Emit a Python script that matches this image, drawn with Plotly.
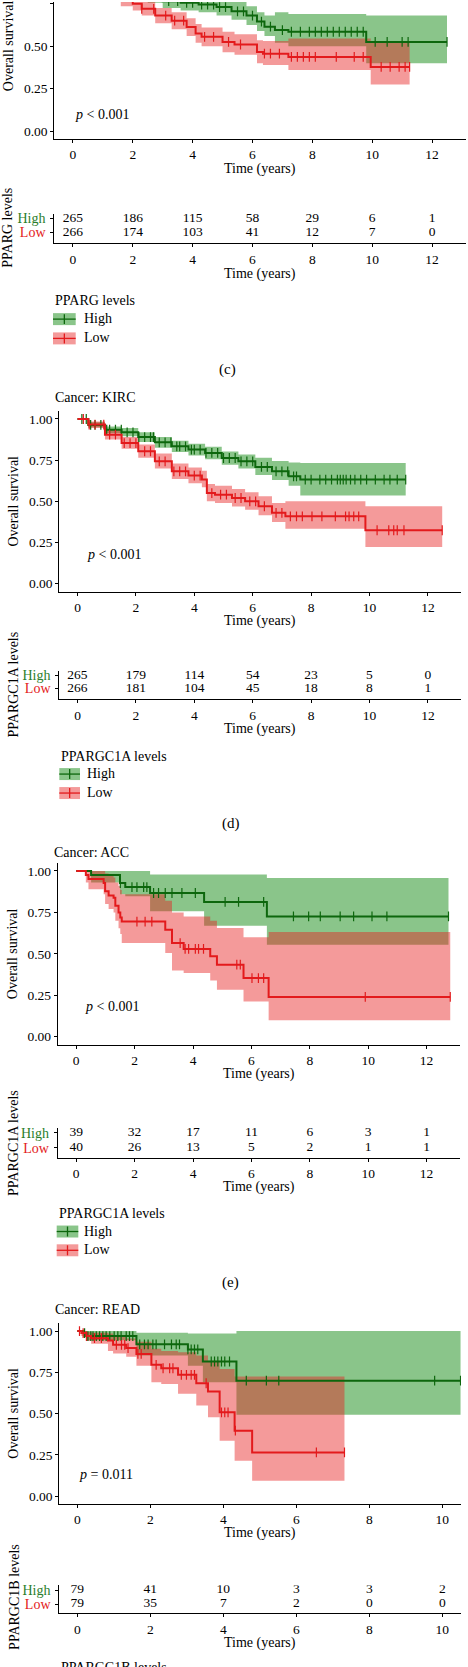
import plotly.graph_objects as go

W, H = 468, 1667
FONT = "Liberation Serif"
GREEN_LINE = "#0d670d"
RED_LINE = "#e31a1c"
GREEN_FILL = "rgba(0,128,0,0.46)"
RED_FILL = "rgba(230,30,30,0.45)"
GREEN_TXT = "#2a7d2a"
RED_TXT = "#e31a1c"

# ---------------- (c) PPARG ----------------
c_hi_t = [0, 0.5, 1.0, 1.5, 2.0, 2.5, 3.0, 3.6, 4.2, 4.8, 5.3, 5.8, 6.15, 6.4, 6.75, 7.2, 9.8, 12.5]
c_hi_s = [1.0, 0.95, 0.91, 0.87, 0.83, 0.79, 0.765, 0.755, 0.745, 0.73, 0.705, 0.68, 0.645, 0.615, 0.595, 0.585, 0.525, 0.525]
c_hi_lo = [1.0, 0.93, 0.885, 0.84, 0.795, 0.755, 0.725, 0.71, 0.70, 0.68, 0.655, 0.625, 0.59, 0.56, 0.52, 0.50, 0.40, 0.40]
c_hi_up = [1.0, 0.97, 0.935, 0.90, 0.865, 0.825, 0.805, 0.80, 0.79, 0.78, 0.76, 0.735, 0.70, 0.68, 0.70, 0.69, 0.68, 0.68]
c_hi_cens = [3.2, 3.5, 3.8, 4.0, 4.3, 4.5, 4.7, 4.9, 5.1, 5.5, 5.7, 6.0, 6.3, 6.6, 7.0, 7.3, 7.6, 7.9, 8.1,
             8.3, 8.5, 8.7, 8.9, 9.1, 9.3, 9.5, 9.7, 10.1, 10.5, 11.0, 11.2, 12.5]
c_lo_t = [0, 0.4, 0.8, 1.2, 1.6, 2.0, 2.3, 2.75, 3.3, 3.8, 4.1, 4.3, 5.0, 5.4, 6.15, 6.35, 7.2, 9.95, 11.25]
c_lo_s = [1.0, 0.96, 0.91, 0.86, 0.77, 0.75, 0.72, 0.68, 0.65, 0.613, 0.575, 0.555, 0.525, 0.51, 0.466, 0.456, 0.437, 0.378, 0.378]
c_lo_lo = [1.0, 0.94, 0.885, 0.83, 0.735, 0.71, 0.68, 0.635, 0.60, 0.56, 0.52, 0.50, 0.465, 0.45, 0.40, 0.39, 0.36, 0.275, 0.275]
c_lo_up = [1.0, 0.98, 0.94, 0.89, 0.805, 0.79, 0.76, 0.725, 0.70, 0.665, 0.63, 0.61, 0.585, 0.57, 0.535, 0.53, 0.545, 0.53, 0.53]
c_lo_cens = [2.3, 2.7, 3.1, 3.4, 3.7, 4.4, 4.7, 5.2, 5.6, 6.4, 6.6, 6.9, 7.3, 7.5, 7.7, 7.9, 8.1, 8.8, 9.4, 9.7,
             10.3, 10.6, 10.9, 11.1, 11.25]
c_ticks = [0, 2, 4, 6, 8, 10, 12]
c_risk_high = [265, 186, 115, 58, 29, 6, 1]
c_risk_low = [266, 174, 103, 41, 12, 7, 0]

# ---------------- (d) KIRC / PPARGC1A ----------------
d_hi_t = [0, 0.37, 0.94, 1.51, 2.08, 2.65, 3.23, 3.8, 4.37, 4.94, 5.51, 6.09, 6.66, 7.23, 7.63, 11.24]
d_hi_s = [1.0, 0.964, 0.935, 0.919, 0.89, 0.858, 0.834, 0.814, 0.794, 0.763, 0.743, 0.709, 0.682, 0.652, 0.632, 0.632]
d_hi_lo = [1.0, 0.95, 0.915, 0.895, 0.86, 0.825, 0.80, 0.778, 0.755, 0.722, 0.70, 0.66, 0.63, 0.595, 0.536, 0.536]
d_hi_up = [1.0, 0.98, 0.955, 0.945, 0.92, 0.89, 0.868, 0.85, 0.832, 0.803, 0.785, 0.765, 0.745, 0.735, 0.733, 0.733]
d_hi_cens = [0.15, 0.3, 0.45, 0.6, 0.8, 1.0, 1.1, 1.3, 1.5, 1.7, 1.9, 2.1, 2.3, 2.5, 2.6, 2.8, 3.0, 3.2, 3.4, 3.5,
             3.7, 3.9, 4.0, 4.2, 4.4, 4.6, 4.8, 5.0, 5.2, 5.4, 5.6, 5.8, 6.0, 6.3, 6.5, 6.8, 7.0, 7.2, 7.4, 7.5,
             7.8, 8.0, 8.3, 8.5, 8.7, 8.9, 9.0, 9.1, 9.2, 9.35, 9.5, 9.7, 9.9, 10.2, 10.5, 10.7, 10.95, 11.24]
d_lo_t = [0, 0.37, 0.94, 1.51, 2.08, 2.65, 3.23, 3.8, 4.26, 4.43, 4.71, 5.29, 5.74, 6.2, 6.66, 7.12, 9.86, 12.49]
d_lo_s = [1.0, 0.966, 0.905, 0.854, 0.804, 0.743, 0.682, 0.656, 0.632, 0.55, 0.54, 0.52, 0.50, 0.47, 0.43, 0.409, 0.324, 0.324]
d_lo_lo = [1.0, 0.945, 0.875, 0.82, 0.765, 0.70, 0.635, 0.61, 0.585, 0.50, 0.49, 0.468, 0.448, 0.415, 0.375, 0.333, 0.223, 0.223]
d_lo_up = [1.0, 0.985, 0.935, 0.89, 0.845, 0.79, 0.73, 0.705, 0.685, 0.605, 0.595, 0.575, 0.555, 0.53, 0.49, 0.50, 0.47, 0.47]
d_lo_cens = [0.2, 0.4, 0.6, 0.9, 1.1, 1.3, 1.6, 1.8, 2.0, 2.3, 2.5, 2.8, 3.0, 3.3, 3.5, 3.7, 4.0, 4.2, 4.6, 4.9,
             5.1, 5.4, 5.6, 5.9, 6.1, 6.4, 6.8, 7.0, 7.29, 7.5, 7.7, 8.03, 8.37, 8.83, 9.18, 9.3, 9.46, 9.63,
             10.26, 10.66, 10.83, 10.95, 11.18, 12.49]
d_ticks = [0, 2, 4, 6, 8, 10, 12]
d_risk_high = [265, 179, 114, 54, 23, 5, 0]
d_risk_low = [266, 181, 104, 45, 18, 8, 1]

# ---------------- (e) ACC / PPARGC1A ----------------
e_hi_t = [0, 0.51, 1.5, 1.68, 2.53, 4.38, 6.53, 12.75]
e_hi_s = [1.0, 0.976, 0.927, 0.903, 0.867, 0.813, 0.726, 0.726]
e_hi_lo = [1.0, 0.93, 0.86, 0.847, 0.757, 0.67, 0.555, 0.555]
e_hi_up = [1.0, 1.0, 1.0, 1.0, 0.978, 0.978, 0.958, 0.958]
e_hi_cens = [1.51, 1.91, 2.08, 2.31, 2.42, 2.65, 2.82, 3.05, 3.28, 3.62, 4.08, 5.1, 5.56, 6.42, 7.44, 7.96,
             8.36, 9.04, 9.5, 10.13, 10.64, 12.75]
e_lo_t = [0, 0.33, 0.42, 0.94, 0.99, 1.11, 1.28, 1.34, 1.45, 1.51, 1.56, 3.05, 3.28, 3.68, 4.59, 4.82, 5.73, 6.59, 12.81]
e_lo_s = [1.0, 0.976, 0.952, 0.927, 0.878, 0.852, 0.838, 0.79, 0.75, 0.72, 0.695, 0.645, 0.565, 0.53, 0.485, 0.435, 0.354, 0.24, 0.24]
e_lo_lo = [1.0, 0.93, 0.89, 0.86, 0.80, 0.77, 0.75, 0.70, 0.655, 0.62, 0.565, 0.505, 0.40, 0.385, 0.34, 0.284, 0.213, 0.099, 0.099]
e_lo_up = [1.0, 1.0, 1.0, 1.0, 0.985, 0.97, 0.96, 0.93, 0.91, 0.885, 0.86, 0.82, 0.75, 0.726, 0.70, 0.656, 0.60, 0.632, 0.632]
e_lo_cens = [2.08, 2.36, 2.59, 3.56, 3.73, 3.85, 4.08, 4.19, 4.36, 5.5, 5.62, 6.02, 6.24, 6.42, 9.9, 12.81]
e_ticks = [0, 2, 4, 6, 8, 10, 12]
e_risk_high = [39, 32, 17, 11, 6, 3, 1]
e_risk_low = [40, 26, 13, 5, 2, 1, 1]

# ---------------- (f) READ / PPARGC1B ----------------
f_hi_t = [0, 0.155, 0.247, 1.62, 3.03, 3.44, 4.36, 10.5]
f_hi_s = [1.0, 0.988, 0.97, 0.92, 0.889, 0.816, 0.70, 0.70]
f_hi_lo = [1.0, 0.965, 0.945, 0.852, 0.79, 0.69, 0.494, 0.494]
f_hi_up = [1.0, 1.0, 1.0, 0.99, 0.985, 0.985, 1.0, 1.0]
f_hi_cens = [0.2, 0.29, 0.37, 0.43, 0.52, 0.61, 0.7, 0.79, 0.89, 1.01, 1.11, 1.2, 1.34, 1.43, 1.52, 1.71, 1.84,
             1.94, 2.07, 2.16, 2.39, 2.58, 2.71, 2.8, 3.03, 3.12, 3.21, 3.3, 3.67, 3.76, 3.85, 3.95, 4.04, 4.17,
             4.63, 5.18, 5.52, 9.79, 10.5]
f_lo_t = [0, 0.11, 0.25, 0.38, 0.84, 0.98, 1.34, 1.62, 2.03, 2.3, 2.76, 3.26, 3.58, 3.9, 4.31, 4.79, 7.32]
f_lo_s = [1.0, 0.988, 0.97, 0.957, 0.943, 0.917, 0.897, 0.862, 0.796, 0.775, 0.735, 0.684, 0.634, 0.508, 0.397, 0.265, 0.265]
f_lo_lo = [1.0, 0.97, 0.94, 0.923, 0.88, 0.865, 0.845, 0.79, 0.69, 0.68, 0.62, 0.549, 0.478, 0.336, 0.215, 0.093, 0.093]
f_lo_up = [1.0, 1.0, 0.995, 0.99, 0.985, 0.97, 0.955, 0.935, 0.893, 0.88, 0.872, 0.852, 0.82, 0.77, 0.725, 0.725, 0.725]
f_lo_cens = [0.06, 0.16, 0.25, 0.47, 0.66, 1.07, 1.21, 1.3, 1.39, 1.66, 1.75, 2.16, 2.35, 2.53, 2.62, 2.85, 2.99,
             3.12, 3.21, 3.53, 3.95, 4.04, 4.13, 4.33, 6.55, 7.32]
f_ticks = [0, 2, 4, 6, 8, 10]
f_risk_high = [79, 41, 10, 3, 3, 2]
f_risk_low = [79, 35, 7, 2, 0, 0]

# ---------------- layout (pixel geometry) ----------------
panels = [
    dict(gene="PPARG", cancer=None, label="(c)", p="<i>p</i> < 0.001",
         hi=(c_hi_t, c_hi_s, c_hi_lo, c_hi_up, c_hi_cens), lo=(c_lo_t, c_lo_s, c_lo_lo, c_lo_up, c_lo_cens),
         ticks=c_ticks, rh=c_risk_high, rl=c_risk_low,
         t0=72.9, ppy=29.93, left=54.3, right=466, s0=129.3, ppu=170.1, top=0, bottom=136.7,
         r_high=216.7, r_low=230.7, r_axis=241.7,
         title_y=None, title_x=53, ttl_km=166.7, ttl_tab=271, os_x=8, gl_x=8, gl_y=226,
         p_x=73, p_y=113, leg_x=53, leg_w=22.7, leg_title=299.3, leg_high=317.5, leg_low=336.8,
         leg_tx=81.7, lab_y=368.3, lab_x=227),
    dict(gene="PPARGC1A", cancer="KIRC", label="(d)", p="<i>p</i> < 0.001",
         hi=(d_hi_t, d_hi_s, d_hi_lo, d_hi_up, d_hi_cens), lo=(d_lo_t, d_lo_s, d_lo_lo, d_lo_up, d_lo_cens),
         ticks=d_ticks, rh=d_risk_high, rl=d_risk_low,
         t0=77.5, ppy=29.2, left=59.3, right=461, s0=582.3, ppu=164.8, top=409, bottom=590.3,
         r_high=674, r_low=687.3, r_axis=698.3,
         title_y=396, title_x=53.3, ttl_km=619, ttl_tab=726.7, os_x=13.3, gl_x=13.3, gl_y=683,
         p_x=85, p_y=553, leg_x=59.3, leg_w=20.7, leg_title=755.7, leg_high=773, leg_low=792,
         leg_tx=85, lab_y=822.7, lab_x=231),
    dict(gene="PPARGC1A", cancer="ACC", label="(e)", p="<i>p</i> < 0.001",
         hi=(e_hi_t, e_hi_s, e_hi_lo, e_hi_up, e_hi_cens), lo=(e_lo_t, e_lo_s, e_lo_lo, e_lo_up, e_lo_cens),
         ticks=e_ticks, rh=e_risk_high, rl=e_risk_low,
         t0=76.2, ppy=29.2, left=57.7, right=459.5, s0=1036, ppu=166, top=861.7, bottom=1044.3,
         r_high=1132.3, r_low=1147.3, r_axis=1157.3,
         title_y=851.7, title_x=51.7, ttl_km=1072.3, ttl_tab=1185, os_x=13.3, gl_x=13.3, gl_y=1142,
         p_x=83.3, p_y=1006, leg_x=56.7, leg_w=21.6, leg_title=1213.3, leg_high=1231, leg_low=1249.8,
         leg_tx=81.7, lab_y=1281.7, lab_x=230.5),
    dict(gene="PPARGC1B", cancer="READ", label=None, p="<i>p</i> = 0.011",
         hi=(f_hi_t, f_hi_s, f_hi_lo, f_hi_up, f_hi_cens), lo=(f_lo_t, f_lo_s, f_lo_lo, f_lo_up, f_lo_cens),
         ticks=f_ticks, rh=f_risk_high, rl=f_risk_low,
         t0=77.3, ppy=36.5, left=59.3, right=461, s0=1496, ppu=165.3, top=1322.3, bottom=1503.5,
         r_high=1590, r_low=1604, r_axis=1613.3,
         title_y=1309.3, title_x=53.3, ttl_km=1532.3, ttl_tab=1641.7, os_x=14, gl_x=13.8, gl_y=1597,
         p_x=76.7, p_y=1474.3, leg_x=None, leg_w=0, leg_title=1668, leg_high=None, leg_low=None,
         leg_tx=0, lab_y=None, lab_x=0, leg_title_x=59.3),
]


def xd(px):
    return px / W


def yd(py):
    return 1 - py / H


def step_at(ts, ss, t):
    v = ss[0]
    for ti, si in zip(ts, ss):
        if ti <= t:
            v = si
    return v


fig = go.Figure()
layout = {}
annotations = []
shapes = []

AX = dict(showline=True, linecolor="black", linewidth=1, ticks="outside", ticklen=3, tickwidth=1,
          tickcolor="black", showgrid=False, zeroline=False, fixedrange=True,
          tickfont=dict(family=FONT, size=13.5, color="black"))


def ann(text, px, py, size=14, xanchor="center", angle=0, color="black"):
    annotations.append(dict(text=text, x=xd(px), y=yd(py), xref="paper", yref="paper", showarrow=False,
                            xanchor=xanchor, yanchor="middle", textangle=angle,
                            font=dict(family=FONT, size=size, color=color)))


for i, p in enumerate(panels):
    k, kt = 2 * i + 1, 2 * i + 2
    xn = "xaxis" if k == 1 else f"xaxis{k}"
    yn = "yaxis" if k == 1 else f"yaxis{k}"
    xr_ = "x" if k == 1 else f"x{k}"
    yr_ = "y" if k == 1 else f"y{k}"
    xrange = [(p["left"] - p["t0"]) / p["ppy"], (p["right"] - p["t0"]) / p["ppy"]]
    yrange = [(p["s0"] - p["bottom"]) / p["ppu"], (p["s0"] - p["top"]) / p["ppu"]]
    layout[xn] = dict(AX, domain=[xd(p["left"]), xd(p["right"])], range=xrange, anchor=yr_,
                      tickvals=p["ticks"], ticktext=[str(t) for t in p["ticks"]])
    layout[yn] = dict(AX, domain=[yd(p["bottom"]), yd(p["top"])], range=yrange, anchor=xr_,
                      tickvals=[0, 0.25, 0.5, 0.75, 1.0], ticktext=["0.00", "0.25", "0.50", "0.75", "1.00"])

    # risk table axes
    d = p["r_low"] - p["r_high"]
    t_top = p["r_high"] - 0.35 * d
    ylo = 1 - (p["r_axis"] - p["r_low"]) / d
    layout[f"xaxis{kt}"] = dict(AX, domain=[xd(p["left"]), xd(p["right"])], range=xrange, anchor=f"y{kt}",
                                tickvals=p["ticks"], ticktext=[str(t) for t in p["ticks"]])
    layout[f"yaxis{kt}"] = dict(AX, domain=[yd(p["r_axis"]), yd(t_top)], range=[ylo, 2.35], anchor=f"x{kt}",
                                tickvals=[1, 2], ticklabelstandoff=2,
                                ticktext=[f'<span style="color:{RED_TXT}">Low</span>',
                                          f'<span style="color:{GREEN_TXT}">High</span>'],
                                tickfont=dict(family=FONT, size=14, color="black"))

    # CI bands: green first, red on top
    for grp, fillc in ((p["hi"], GREEN_FILL), (p["lo"], RED_FILL)):
        ts, ss, lo, up, cens = grp
        fig.add_trace(go.Scatter(x=ts, y=lo, mode="lines", line=dict(width=0, shape="hv"),
                                 xaxis=xr_, yaxis=yr_, hoverinfo="skip", showlegend=False))
        fig.add_trace(go.Scatter(x=ts, y=up, mode="lines", line=dict(width=0, shape="hv"), fill="tonexty",
                                 fillcolor=fillc, xaxis=xr_, yaxis=yr_, hoverinfo="skip", showlegend=False))
    for grp, lc in ((p["hi"], GREEN_LINE), (p["lo"], RED_LINE)):
        ts, ss, lo, up, cens = grp
        fig.add_trace(go.Scatter(x=ts, y=ss, mode="lines", line=dict(width=2, shape="hv", color=lc),
                                 xaxis=xr_, yaxis=yr_, hoverinfo="skip", showlegend=False))
        fig.add_trace(go.Scatter(x=cens, y=[step_at(ts, ss, c) for c in cens], mode="markers",
                                 marker=dict(symbol="line-ns", size=7, line=dict(width=1.2, color=lc)),
                                 xaxis=xr_, yaxis=yr_, hoverinfo="skip", showlegend=False))

    # risk numbers
    fig.add_trace(go.Scatter(x=p["ticks"], y=[2] * len(p["ticks"]), mode="text", text=[str(v) for v in p["rh"]],
                             textfont=dict(family=FONT, size=13.5, color="black"), xaxis=f"x{kt}", yaxis=f"y{kt}",
                             hoverinfo="skip", showlegend=False))
    fig.add_trace(go.Scatter(x=p["ticks"], y=[1] * len(p["ticks"]), mode="text", text=[str(v) for v in p["rl"]],
                             textfont=dict(family=FONT, size=13.5, color="black"), xaxis=f"x{kt}", yaxis=f"y{kt}",
                             hoverinfo="skip", showlegend=False))

    # texts
    mid_x = (p["left"] + p["right"]) / 2
    if p["cancer"]:
        ann(f"Cancer: {p['cancer']}", p["title_x"], p["title_y"], xanchor="left")
    ann("Time (years)", mid_x, p["ttl_km"] + 1)
    ann("Time (years)", mid_x, p["ttl_tab"] + 1)
    ann("Overall survival", p["os_x"], p["s0"] - 0.5 * p["ppu"], angle=-90)
    ann(f"{p['gene']} levels", p["gl_x"], p["gl_y"], angle=-90)
    ann(p["p"], p["p_x"], p["p_y"], xanchor="left")
    if p["leg_x"] is not None:
        ann(f"{p['gene']} levels", p["leg_x"], p["leg_title"], xanchor="left")
        for cy, fc, lc, name in ((p["leg_high"], GREEN_FILL, GREEN_LINE, "High"),
                                 (p["leg_low"], RED_FILL, RED_LINE, "Low")):
            x0, x1 = p["leg_x"], p["leg_x"] + p["leg_w"]
            shapes.append(dict(type="rect", xref="paper", yref="paper", x0=xd(x0), x1=xd(x1),
                               y0=yd(cy + 6), y1=yd(cy - 6), fillcolor=fc, line=dict(width=0)))
            shapes.append(dict(type="line", xref="paper", yref="paper", x0=xd(x0), x1=xd(x1),
                               y0=yd(cy), y1=yd(cy), line=dict(color=lc, width=1.3)))
            xm = (x0 + x1) / 2
            shapes.append(dict(type="line", xref="paper", yref="paper", x0=xd(xm), x1=xd(xm),
                               y0=yd(cy + 5), y1=yd(cy - 5), line=dict(color=lc, width=1.3)))
            ann(name, p["leg_tx"], cy - 0.5, xanchor="left")
    else:
        ann(f"{p['gene']} levels", p["leg_title_x"], p["leg_title"], xanchor="left")
    if p["label"]:
        ann(p["label"], p["lab_x"], p["lab_y"], size=15)

fig.update_layout(width=W, height=H, margin=dict(l=0, r=0, t=0, b=0), paper_bgcolor="white",
                  plot_bgcolor="white", showlegend=False, annotations=annotations, shapes=shapes,
                  font=dict(family=FONT, color="black"), **layout)
fig.write_html("out.html", config={"displayModeBar": False, "staticPlot": True},
               post_script="document.body.style.margin='0';document.body.style.overflow='hidden';")
